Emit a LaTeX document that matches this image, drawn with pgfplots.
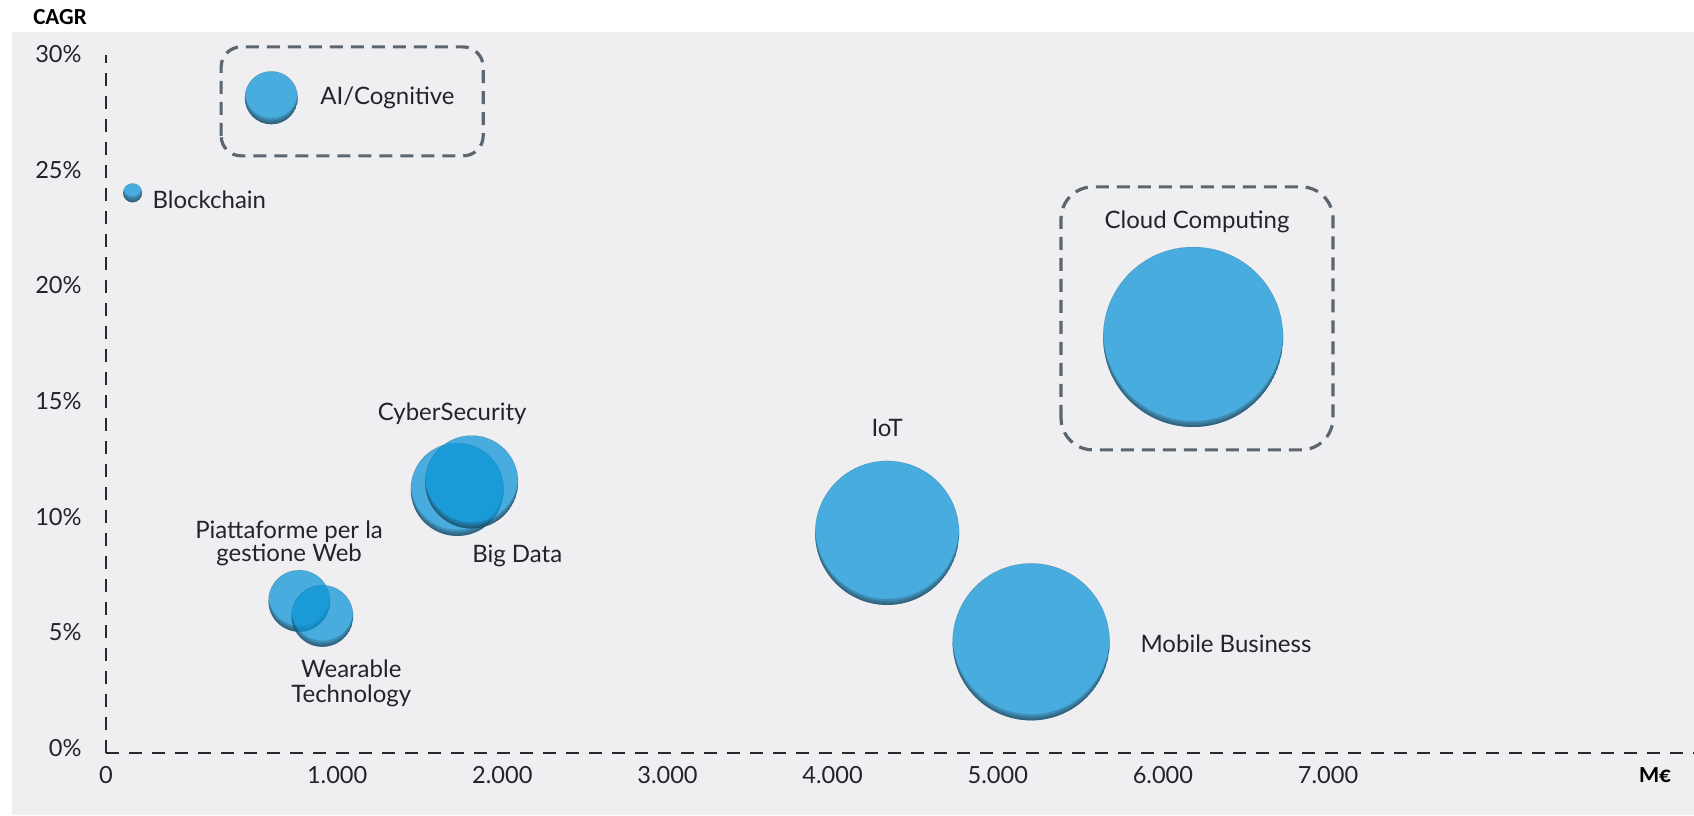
\documentclass[border=0pt]{standalone}
\usepackage{fontspec}
\setmainfont{Lato}
\newfontfamily\carlito{Carlito}
\usepackage{pgfplots}
\usepackage{pgfplotstable}
\pgfplotsset{compat=1.18}

\definecolor{panelgray}{RGB}{239,239,242}
\definecolor{axisdark}{RGB}{40,40,44}
\definecolor{boxslate}{RGB}{92,102,112}
\definecolor{labtext}{RGB}{35,35,45}
\definecolor{bubfill}{RGB}{9,149,215}
\definecolor{bubshade}{RGB}{38,58,72}

% market size (M EUR), CAGR (%), bubble radius (pt)
\pgfplotstableread{
name          x     y      r
AI            715   28.15  13.25
Blockchain    115   24.04  4.75
Piattaforme   836   6.40   15.4
Wearable      936   5.75   15.4
CyberSecurity 1727  11.22  23.25
BigData       1814  11.54  23.25
IoT           4330  9.34   36
Mobile        5202  4.63   39.25
Cloud         6183  17.81  45
}\bubbles

% glossy bubble: translucent disc with a soft dark rim along the bottom
\newcommand\bubrim[1]{%
  \pgfpathcircle{\pgfpointorigin}{\pgfplotmarksize}%
  \pgfpathcircle{\pgfqpoint{0pt}{#1}}{\pgfplotmarksize}%
  \pgfusepath{fill}%
}
\pgfdeclareplotmark{bubble}{%
  \pgfscope
  \pgfpathcircle{\pgfpointorigin}{\pgfplotmarksize}%
  \pgfsetfillcolor{bubfill}%
  \pgfsetfillopacity{0.725}%
  \pgfusepath{fill}%
  \pgfpathcircle{\pgfpointorigin}{\pgfplotmarksize}%
  \pgfusepath{clip}%
  \pgfsetfillcolor{bubshade}%
  \pgfseteorule
  \pgfsetfillopacity{0.28}%
  \bubrim{0.9pt}\bubrim{1.9pt}\bubrim{3pt}%
  \endpgfscope
}

\newcommand\labfont{\fontsize{12}{12}\selectfont}
\newcommand\tickfont{\fontsize{11.8}{12}\selectfont}

\begin{document}
\begin{tikzpicture}
\path[use as bounding box] (0,0) rectangle (847pt,407.5pt);
\fill[white] (0,0) rectangle (847pt,407.5pt);
\fill[panelgray] (6pt,0) rectangle (847pt,391.5pt);
\node[font=\carlito\bfseries\fontsize{11.5}{13}\selectfont, text=black] at (30pt,399pt) {CAGR};

\begin{axis}[
  at={(53pt,31pt)}, anchor=south west,
  scale only axis, width=794pt, height=349pt,
  clip=false,
  xmin=0, xmax=9216, ymin=-0.173, ymax=30,
  x coord trafo/.code={\pgfmathparse{#1<1000 ? 1.4*#1-400 : #1}},
  x coord inv trafo/.code={\pgfmathparse{#1<1000 ? (#1+400)/1.4 : #1}},
  axis x line=bottom, axis y line=left,
  axis line style={draw=axisdark, line width=1pt, dash pattern=on 6.5pt off 5pt, -},
  xtick={0,1000,2000,3000,4000,5000,6000,7000},
  xticklabels={0,1.000,2.000,3.000,4.000,5.000,6.000,7.000},
  ytick={0,5,10,15,20,25,30},
  yticklabels={0\%,5\%,10\%,15\%,20\%,25\%,30\%},
  major tick length=0pt,
  tick style={draw=none},
  tick label style={font=\tickfont, text=labtext},
  xticklabel style={anchor=mid, inner sep=0pt, yshift=-12.5pt},
  yticklabel style={anchor=mid east, inner sep=0pt, xshift=-12pt, yshift=-1.2pt},
]
\addplot[scatter, only marks, mark=bubble,
  visualization depends on={\thisrow{r} \as \rad},
  scatter/@pre marker code/.append style={/tikz/mark size=\rad pt}]
  table[x=x, y=y] {\bubbles};

\tikzset{lab/.style={font=\labfont, text=labtext, inner sep=0pt, align=center},
         callout/.style={draw=boxslate, line width=1.6pt, dash pattern=on 6.5pt off 4pt}}

\draw[callout, rounded corners=10pt] (axis cs:498,25.64) rectangle (axis cs:1884,30.35);
\draw[callout, rounded corners=16pt] (axis cs:5383,12.93) rectangle (axis cs:7030,24.30);

\node[lab, anchor=mid west] at (axis cs:926,28.10) {AI/Cognitive};
\node[lab, anchor=mid west] at (axis cs:200,23.60) {Blockchain};
\node[lab, anchor=mid] at (axis cs:6207,22.70) {Cloud Computing};
\node[lab, anchor=mid] at (axis cs:1696,14.44) {CyberSecurity};
\node[lab, anchor=mid] at (axis cs:2090,8.26) {Big Data};
\node[lab, font=\fontsize{12}{11.5}\selectfont] at (axis cs:792,8.88) {Piattaforme per la\\gestione Web};
\node[lab, font=\fontsize{12}{12.5}\selectfont] at (axis cs:1085,2.85) {Wearable\\Technology};
\node[lab, anchor=mid] at (axis cs:4330,13.71) {IoT};
\node[lab, anchor=mid west] at (axis cs:5862,4.37) {Mobile Business};
\end{axis}

\node[font=\carlito\bfseries\fontsize{11.5}{13}\selectfont, text=black] at (827.5pt,20pt) {M€};
\end{tikzpicture}
\end{document}
